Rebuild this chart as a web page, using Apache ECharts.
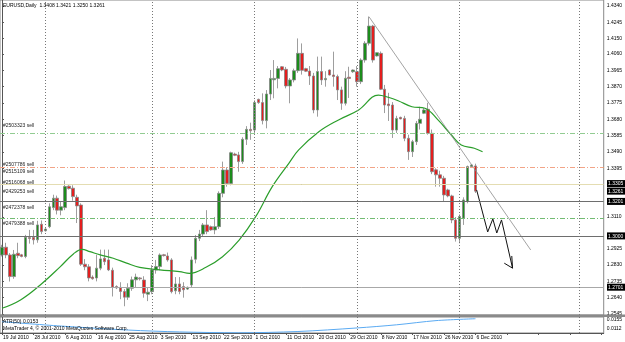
<!DOCTYPE html>
<html><head><meta charset="utf-8">
<script src="https://cdn.jsdelivr.net/npm/echarts@6/dist/echarts.min.js"></script>
<style>html,body{margin:0;padding:0;background:#fff;}#c{width:625px;height:342px;}</style>
</head><body><div id="c"></div>
<script>
// ---------- data ----------
const slotCount = 153;      // bar slots visible on the time axis (incl. empty right margin)
const lastBar = 120;        // index of the last (6 Dec 2010) bar
const monthNames = ['Jan','Feb','Mar','Apr','May','Jun','Jul','Aug','Sep','Oct','Nov','Dec'];
// trading days Sun..Fri starting 19 Jul 2010 (broker shows Sunday bars)
const categories = (function () {
  const out = []; const d = new Date(Date.UTC(2010, 6, 19));
  while (out.length < slotCount) {
    if (d.getUTCDay() !== 6) out.push(d.getUTCDate() + ' ' + monthNames[d.getUTCMonth()] + ' ' + d.getUTCFullYear());
    d.setUTCDate(d.getUTCDate() + 1);
  }
  return out;
})();

const openVals = [1.2889,1.2934,1.2889,1.2763,1.2899,1.2890,1.2880,1.2990,1.2992,1.2977,1.3068,1.3030,1.3054,1.3165,1.3220,1.3150,1.3165,1.3290,1.3278,1.3225,
1.3180,1.2835,1.2820,1.2760,1.2755,1.2812,1.2870,1.2860,1.2800,1.2705,1.2700,1.2676,1.2643,1.2695,1.2744,1.2755,1.2743,1.2660,1.2675,1.2801,
1.2821,1.2890,1.2883,1.2860,1.2680,1.2720,1.2705,1.2690,1.2714,1.2864,1.2986,1.3011,1.3064,1.3054,1.3035,1.3054,1.3248,1.3384,1.3306,1.3477,
1.3472,1.3433,1.3563,1.3621,1.3617,1.3796,1.3777,1.3672,1.3827,1.3910,1.3918,1.3986,1.3971,1.3874,1.3909,1.3963,1.4064,1.3975,1.3961,1.3932,
1.3734,1.3958,1.3910,1.3967,1.3938,1.3929,1.3851,1.3773,1.3925,1.3957,1.3957,1.3899,1.4025,1.4123,1.4223,1.4049,1.4064,1.3855,1.3769,1.3763,
1.3617,1.3691,1.3685,1.3569,1.3491,1.3549,1.3656,1.3715,1.3738,1.3598,1.3385,1.3356,1.3336,1.3268,1.3233,1.3093,1.2986,1.3103,1.3200,1.3404,1.3408];
const highVals = [1.2948,1.2960,1.2900,1.2918,1.2960,1.2895,1.3006,1.3035,1.3035,1.3088,1.3090,1.3045,1.3190,1.3240,1.3235,1.3200,1.3323,1.3295,1.3295,1.3240,
1.3190,1.2865,1.2835,1.2770,1.2890,1.2920,1.2920,1.2920,1.2815,1.2712,1.2730,1.2690,1.2724,1.2763,1.2780,1.2760,1.2765,1.2700,1.2830,1.2860,
1.2898,1.2895,1.2903,1.2870,1.2760,1.2760,1.2730,1.2705,1.2880,1.3005,1.3035,1.3075,1.3150,1.3060,1.3110,1.3260,1.3433,1.3400,1.3491,1.3485,
1.3490,1.3575,1.3640,1.3660,1.3790,1.3800,1.3831,1.3850,1.3967,1.4025,1.3990,1.3990,1.3985,1.3920,1.3975,1.4151,1.4122,1.3980,1.3990,1.3950,
1.4045,1.4045,1.3960,1.3970,1.4074,1.3940,1.3870,1.3960,1.3986,1.3970,1.3990,1.4035,1.4135,1.4278,1.4230,1.4070,1.4075,1.3880,1.3834,1.3780,
1.3700,1.3695,1.3700,1.3590,1.3560,1.3670,1.3753,1.3745,1.3776,1.3620,1.3394,1.3380,1.3350,1.3275,1.3240,1.3110,1.3125,1.3225,1.3410,1.3418,1.3421];
const lowVals = [1.2880,1.2870,1.2734,1.2750,1.2870,1.2875,1.2870,1.2955,1.2950,1.2960,1.3010,1.3025,1.3045,1.3150,1.3125,1.3120,1.3150,1.3270,1.3205,1.3075,
1.2825,1.2800,1.2735,1.2745,1.2735,1.2800,1.2830,1.2795,1.2647,1.2690,1.2631,1.2590,1.2627,1.2680,1.2700,1.2740,1.2640,1.2620,1.2660,1.2780,
1.2800,1.2880,1.2850,1.2665,1.2660,1.2660,1.2640,1.2685,1.2700,1.2840,1.2970,1.2995,1.3010,1.3030,1.3010,1.3040,1.3225,1.3287,1.3295,1.3465,
1.3374,1.3420,1.3530,1.3560,1.3590,1.3770,1.3650,1.3627,1.3792,1.3802,1.3860,1.3960,1.3860,1.3773,1.3895,1.3950,1.3940,1.3955,1.3880,1.3715,
1.3695,1.3880,1.3870,1.3935,1.3870,1.3792,1.3735,1.3760,1.3804,1.3950,1.3870,1.3885,1.4010,1.4110,1.4010,1.4045,1.3850,1.3716,1.3670,1.3571,
1.3600,1.3680,1.3552,1.3443,1.3460,1.3530,1.3620,1.3710,1.3590,1.3360,1.3287,1.3287,1.3200,1.3225,1.3074,1.2967,1.2957,1.3064,1.3190,1.3400,1.3250];
const closeVals = [1.2934,1.2889,1.2763,1.2893,1.2885,1.2880,1.2992,1.2985,1.2977,1.3064,1.3025,1.3040,1.3170,1.3220,1.3150,1.3170,1.3288,1.3276,1.3229,1.3175,
1.2835,1.2820,1.2755,1.2750,1.2812,1.2866,1.2850,1.2802,1.2701,1.2697,1.2676,1.2643,1.2695,1.2744,1.2760,1.2750,1.2666,1.2672,1.2802,1.2821,
1.2889,1.2885,1.2860,1.2675,1.2720,1.2676,1.2686,1.2700,1.2860,1.2986,1.3011,1.3064,1.3025,1.3035,1.3054,1.3248,1.3384,1.3306,1.3485,1.3470,
1.3433,1.3563,1.3621,1.3613,1.3777,1.3777,1.3672,1.3827,1.3918,1.3918,1.3975,1.3967,1.3874,1.3909,1.3963,1.4064,1.3965,1.3960,1.3932,1.3734,
1.3958,1.3909,1.3918,1.3938,1.3929,1.3851,1.3773,1.3919,1.3918,1.3967,1.3899,1.4025,1.4123,1.4223,1.4025,1.4068,1.3855,1.3763,1.3759,1.3617,
1.3685,1.3682,1.3569,1.3491,1.3549,1.3656,1.3680,1.3734,1.3598,1.3374,1.3356,1.3336,1.3239,1.3233,1.3093,1.2986,1.3113,1.3210,1.3404,1.3414,1.3261];

// moving average: [bar index, price]
const maPoints = [[0,1.2578],[4.7,1.2627],[9.7,1.2714],[14.8,1.2821],[18.1,1.2895],[20.3,1.2922],[22.3,1.2908],[24.9,1.2889],[28.2,1.2870],[31.6,1.2841],
[34.9,1.2817],[40,1.2802],[45,1.2792],[47.5,1.2782],[51.7,1.2817],[55.9,1.2879],[60.1,1.2976],[64.3,1.3112],[68.5,1.3287],[72.7,1.3423],[75.2,1.3501],
[80.3,1.3607],[85.3,1.3676],[90.4,1.3734],[95.4,1.3821],[97.9,1.3808],[100.4,1.3788],[103.9,1.3753],[107.2,1.3744],[110.5,1.3676],[113.9,1.3588],
[116.4,1.3530],[119.7,1.3511],[121.8,1.3491]];
// ATR(50): [bar index, value]
const atrPoints = [[0,0.0147],[15,0.0126],[32,0.0107],[45,0.0098],[60,0.0094],[75,0.0100],[90,0.0117],[100,0.0132],[110,0.0152],[120,0.0161]];

const priceTicks = [1.4340,1.4245,1.4150,1.4060,1.3965,1.3870,1.3775,1.3680,1.3585,1.3490,1.3395,1.3110,1.2925,1.2830,1.2735,1.2640,1.2545];
const atrTicks = [0.0155,0.0112];
const priceTags = [1.3305,1.3261,1.3201,1.3000,1.2701];
const tagColors = ['#6e6e6e','#e4ddb2','#6e6e6e','#6e6e6e','#a8a8a8'];
const orderNames = ['#2503323 sell','#2507786 sell','#2515109 sell','#2516068 sell','#2429253 sell','#2472378 sell','#2479388 sell'];
const orderLevels = [1.3621,1.3394,1.3351,1.3287,1.3235,1.3141,1.3050];
const orderColors = ['#92cc92','#a57b06','#f2a487','#a57b06','#a9d9a9','#72bb72','#72bb72'];
const separatorIdx = [11,38,64,90,116,146.4];
const trendLine = [[93,1.4278],[134,1.2918]];
const arrowPath = [[120.3,1.3268],[123.1,1.3023],[124.4,1.3099],[125.4,1.3017],[126.6,1.3093],[129.4,1.2812]];
const arrowHead = [[127.3,1.2841],[129.4,1.2812],[129.2,1.2883]];
const headerText = 'EURUSD,Daily  1.3408 1.3421 1.3250 1.3261';
const atrText = 'ATR(50) 0.0153';
const copyText = 'MetaTrader 4, \u00a9 2001-2010 MetaQuotes Software Corp.';

// ---------- chart ----------
const FONT = 'Liberation Sans, Arial, sans-serif';
const candleData = openVals.map((o, i) => [o, closeVals[i], lowVals[i], highVals[i]]);
const DASHDOT = [5, 2, 1, 2];

const levelLines = orderLevels.map((v, i) => ({ yAxis: v, lineStyle: { color: orderColors[i], type: DASHDOT, width: 1 } }))
  .concat(priceTags.map((v, i) => ({ yAxis: v, lineStyle: { color: tagColors[i], type: 'solid', width: 1 } })));
const sepLines = separatorIdx.map(v => ({ xAxis: v }));

const chart = echarts.init(document.getElementById('c'), null, { renderer: 'canvas' });
const titleStyle = { fontSize: 5, fontWeight: 'normal', color: '#000', fontFamily: FONT };
chart.setOption({
  animation: false,
  backgroundColor: '#fff',
  title: [
    { text: headerText, left: 3, top: 3.5, padding: 0, textStyle: titleStyle },
    { text: atrText, left: 3, top: 319.5, padding: 0, textStyle: titleStyle },
    { text: copyText, left: 3, top: 326.5, padding: 0, textStyle: titleStyle }
  ],
  grid: [
    { left: 0, top: 0, width: 606, height: 315, show: true, borderColor: '#888', borderWidth: 1 },
    { left: 0, top: 317, width: 606, height: 16, show: true, borderColor: '#888', borderWidth: 1 }
  ],
  xAxis: [
    { type: 'category', gridIndex: 0, data: categories, boundaryGap: true,
      axisLine: { show: false }, axisTick: { show: false }, axisLabel: { show: false }, splitLine: { show: false } },
    { type: 'value', gridIndex: 0, min: -0.5, max: slotCount - 0.5, show: false },
    { type: 'category', gridIndex: 1, data: categories, boundaryGap: true,
      axisLine: { show: true, lineStyle: { color: '#555' } },
      axisTick: { show: true, interval: 7, alignWithLabel: true, length: 2, lineStyle: { color: '#555' } },
      axisLabel: { show: true, interval: 7, align: 'left', margin: 2.5, fontSize: 5, color: '#000', fontFamily: FONT,
        padding: [0, 0, 0, 1], formatter: (v, i) => (i <= lastBar ? v : '') },
      splitLine: { show: false } },
    { type: 'value', gridIndex: 1, min: -0.5, max: slotCount - 0.5, show: false }
  ],
  yAxis: [
    { type: 'value', gridIndex: 0, position: 'right', min: 1.2539, max: 1.4375,
      splitLine: { show: false },
      axisLine: { show: true, lineStyle: { color: '#555' } },
      axisTick: { show: true, length: 2, customValues: priceTicks, lineStyle: { color: '#555' } },
      axisLabel: { customValues: priceTicks, formatter: v => v.toFixed(4), fontSize: 5, color: '#000', margin: 3, fontFamily: FONT } },
    { type: 'value', gridIndex: 1, position: 'right', min: 0.00929, max: 0.01693,
      splitLine: { show: false },
      axisLine: { show: true, lineStyle: { color: '#555' } },
      axisTick: { show: true, length: 2, customValues: atrTicks, lineStyle: { color: '#555' } },
      axisLabel: { customValues: atrTicks, formatter: v => v.toFixed(4), fontSize: 5, color: '#000', margin: 3, fontFamily: FONT } }
  ],
  series: [
    { type: 'line', name: 'levels', xAxisIndex: 1, yAxisIndex: 0, data: [], silent: true,
      markLine: { silent: true, symbol: ['none', 'none'], animation: false, label: { show: false }, data: levelLines } },
    { type: 'line', name: 'separators', xAxisIndex: 1, yAxisIndex: 0, data: [], silent: true,
      markLine: { silent: true, symbol: ['none', 'none'], animation: false,
        lineStyle: { color: '#777', type: [1, 2], width: 1 }, label: { show: false }, data: sepLines } },
    { type: 'candlestick', name: 'EURUSD', xAxisIndex: 0, yAxisIndex: 0, data: candleData, barWidth: 3, silent: true,
      itemStyle: { color: '#1c8c1c', color0: '#e41e1e', borderColor: '#858585', borderColor0: '#858585', borderWidth: 0.8 } },
    { type: 'line', name: 'MA', xAxisIndex: 1, yAxisIndex: 0, data: maPoints, smooth: 0.4, symbol: 'none', silent: true,
      lineStyle: { color: '#2b9e2b', width: 1.2 } },
    { type: 'line', name: 'trend', xAxisIndex: 1, yAxisIndex: 0, data: trendLine, symbol: 'none', silent: true,
      lineStyle: { color: '#8c8c8c', width: 0.8 } },
    { type: 'line', name: 'arrow', xAxisIndex: 1, yAxisIndex: 0, data: arrowPath, symbol: 'none', silent: true,
      lineStyle: { color: '#111', width: 1 } },
    { type: 'line', name: 'arrowHead', xAxisIndex: 1, yAxisIndex: 0, data: arrowHead, symbol: 'none', silent: true,
      lineStyle: { color: '#111', width: 1 } },
    { type: 'line', name: 'ATR', xAxisIndex: 3, yAxisIndex: 1, data: atrPoints, smooth: 0.3, symbol: 'none', silent: true,
      lineStyle: { color: '#5aaaf2', width: 1 },
      markLine: { silent: true, symbol: ['none', 'none'], animation: false,
        lineStyle: { color: '#777', type: [1, 2], width: 1 }, label: { show: false }, data: sepLines } }
  ]
});

// labels for the order lines and the price tags, placed with the axis scale
const gfx = [{ type: 'rect', shape: { x: 0, y: 314.5, width: 625, height: 2.5 }, style: { fill: '#8a8a8a' }, z: 100 }];
orderLevels.forEach((v, i) => {
  const y = chart.convertToPixel({ yAxisIndex: 0 }, v);
  gfx.push({ type: 'text', x: 3, y: y - 3.6, z: 100,
    style: { text: orderNames[i], fontSize: 5, fontFamily: FONT, fill: '#222', verticalAlign: 'middle', align: 'left' } });
});
priceTags.forEach(v => {
  const y = chart.convertToPixel({ yAxisIndex: 0 }, v);
  gfx.push({ type: 'rect', shape: { x: 607, y: y - 3.5, width: 18, height: 7 }, style: { fill: '#000' }, z: 100 });
  gfx.push({ type: 'text', x: 608, y: y + 0.3, z: 101,
    style: { text: v.toFixed(4), fontSize: 5, fontFamily: FONT, fill: '#fff', verticalAlign: 'middle', align: 'left' } });
});
chart.setOption({ graphic: gfx });
</script>
</body></html>
